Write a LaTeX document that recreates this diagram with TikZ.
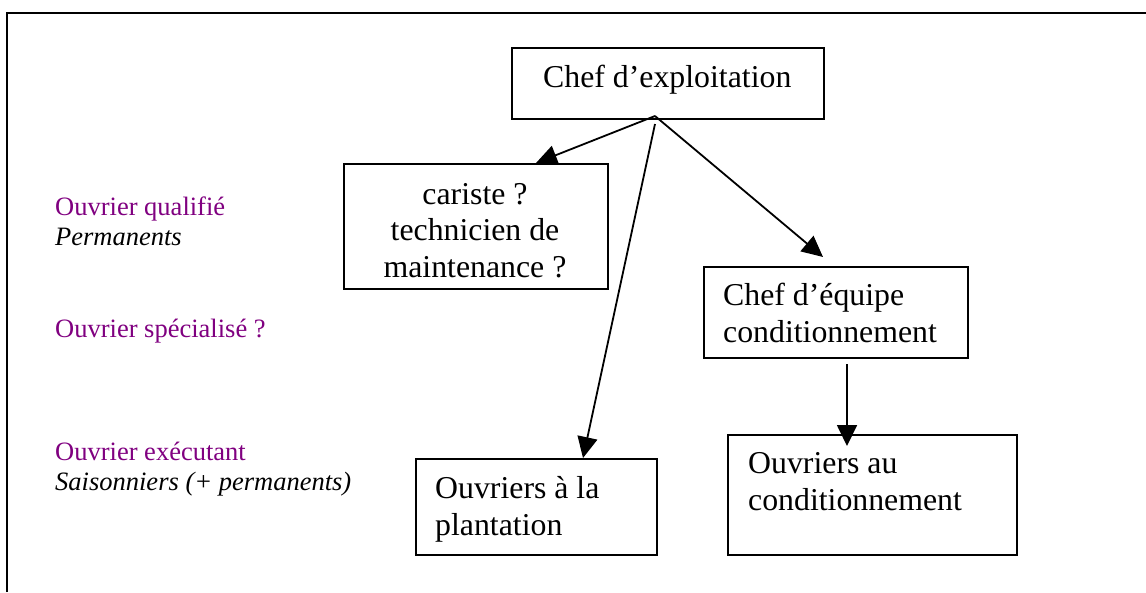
\documentclass[tikz,border=0pt]{standalone}
\usepackage{fontspec}
\setmainfont{Liberation Serif}
\usetikzlibrary{arrows.meta,calc}
\definecolor{levelviolet}{RGB}{128,0,128}
\begin{document}
\begin{tikzpicture}[x=1pt,y=-1pt,
  box/.style={draw,line width=2pt,rectangle,inner sep=0pt,anchor=north west},
  boxtext/.style={inner sep=0pt,font=\fontsize{31.8}{36.5}\selectfont},
  level/.style={inner sep=0pt,anchor=base west,align=left,
                font=\fontsize{26.5}{30}\selectfont},
  link/.style={line width=1.8pt,-{Triangle[length=21pt,width=20pt]}}]
\useasboundingbox (0,0) rectangle (1146,592);

% outer frame (top and left edges)
\draw[line width=2.6pt] (7,592) -- (7,13) -- (1146,13);

% boxes
\node[box,minimum width=312pt,minimum height=71pt] (chef) at (511,47) {};
\node[box,minimum width=264pt,minimum height=125pt] (cariste) at (343,163) {};
\node[box,minimum width=264pt,minimum height=91pt] (equipe) at (703,266) {};
\node[box,minimum width=241pt,minimum height=96pt] (plantation) at (415,458) {};
\node[box,minimum width=289pt,minimum height=120pt] (cond) at (727,434) {};

% box texts (multi-line texts sit on the baseline of their last line)
\node[boxtext,anchor=base west] (chefT) at (543,87) {Chef d’exploitation};
\node[boxtext,anchor=base,align=center] (caristeT) at (475,277)
  {cariste ?\\technicien de\\maintenance ?};
\node[boxtext,anchor=base west,align=left] (equipeT) at (723,342)
  {Chef d’équipe\\conditionnement};
\node[boxtext,anchor=base west,align=left] (plantationT) at (435,535)
  {Ouvriers à la\\plantation};
\node[boxtext,anchor=base west,align=left] (condT) at (748,510)
  {Ouvriers au\\conditionnement};

% level labels
\node[level,text=levelviolet] (qualif) at (55,215) {Ouvrier qualifié};
\node[level,font=\fontsize{26.5}{30}\selectfont\itshape] (perm) at (55,245) {Permanents};
\node[level,text=levelviolet] (spec) at (55,337) {Ouvrier spécialisé ?};
\node[level,text=levelviolet] (exec) at (55,460) {Ouvrier exécutant};
\node[level,font=\fontsize{26.5}{30}\selectfont\itshape] (sais) at (55,490) {Saisonniers (+ permanents)};

% connectors
\coordinate (apex) at ($(chef.south west)+(144,-4)$);
\coordinate (apexB) at ($(chef.south west)+(144,4)$);
\draw[link] (apex) -- ($(cariste.north west)+(193,0)$);
\draw[link] (apex) -- ($(equipe.north west)+(120,-9)$);
\draw[link] (apexB) -- ($(plantation.north west)+(168,0)$);
\draw[link] ($(equipe.south west)+(144,5)$) -- ($(cond.north west)+(120,12)$);
\end{tikzpicture}
\end{document}
